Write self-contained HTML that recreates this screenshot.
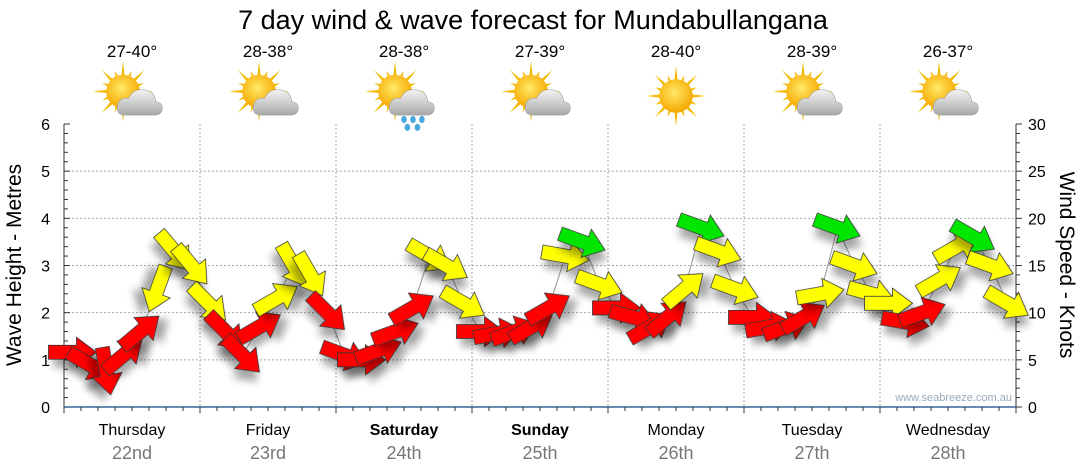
<!DOCTYPE html>
<html><head><meta charset="utf-8"><style>
html,body{margin:0;padding:0;background:#fff;width:1080px;height:475px;overflow:hidden}
svg{display:block;font-family:"Liberation Sans",sans-serif}
</style></head><body>
<svg id="c" width="1080" height="475" viewBox="0 0 1080 475">
<defs>
<filter id="sh" x="-50%" y="-50%" width="200%" height="200%"><feGaussianBlur in="SourceAlpha" stdDeviation="4"/><feOffset dx="5" dy="8"/><feComponentTransfer><feFuncA type="linear" slope="0.35"/></feComponentTransfer><feMerge><feMergeNode/><feMergeNode in="SourceGraphic"/></feMerge></filter>
<radialGradient id="sun" cx="0.45" cy="0.4" r="0.6"><stop offset="0" stop-color="#ffe866"/><stop offset="1" stop-color="#f5a800"/></radialGradient>
<linearGradient id="cl" x1="0" y1="0" x2="0" y2="1"><stop offset="0" stop-color="#f4f4f4"/><stop offset="1" stop-color="#a8a8a8"/></linearGradient>
</defs>
<text x="533" y="29" text-anchor="middle" font-size="27" fill="#000">7 day wind &amp; wave forecast for Mundabullangana</text>
<g id="grid"></g><g id="axes"></g><g id="wx"></g><g id="wind"></g>
<text x="1012" y="401" text-anchor="end" font-size="11" fill="#99aabb">www.seabreeze.com.au</text>
<text transform="translate(21,265) rotate(-90)" text-anchor="middle" font-size="21">Wave Height - Metres</text>
<text transform="translate(1060,265) rotate(90)" text-anchor="middle" font-size="21">Wind Speed - Knots</text>
</svg>
<script>
const days=["Thursday","Friday","Saturday","Sunday","Monday","Tuesday","Wednesday"];
const dates=["22nd","23rd","24th","25th","26th","27th","28th"];
const boldDays=[false,false,true,true,false,false,false];
const temps=["27-40°","28-38°","28-38°","27-39°","28-40°","28-39°","26-37°"];
const icons=["partly","partly","rain","partly","sun","partly","partly"];
const waveTicks=[0,1,2,3,4,5,6];
const knotTicks=[0,5,10,15,20,25,30];
const windSpeed=[5.8,4.5,3.8,5.5,8,12.5,16.5,15,
 11,8,5.5,8.5,11.5,15,14,10,
 5.5,5,6,8,10.5,16,15,11,
 8,7.8,8,8.5,10.5,16,17.5,13,
 10.5,9.5,8.5,9.5,12.5,19,16.5,12.5,
 9.5,8.5,8.5,9.5,12,19,15,12,
 11,9,10,13.5,17,18,15,11];
const windDir=[0,30,80,-40,-40,110,50,50,
 45,45,45,-30,-30,60,60,45,
 20,0,-20,-20,-30,30,30,30,
 0,-10,-20,-30,-30,10,20,20,
 0,15,-30,-40,-40,20,20,20,
 0,-10,-20,-30,-10,20,20,15,
 0,10,-20,-30,-30,30,20,30];
const NS="http://www.w3.org/2000/svg";
const X0=64,DW=136,Y0=407,YT=124;
const xDay=d=>X0+d*DW;
const xT=i=>X0+(i+0.5)*DW/8;
const yM=m=>Y0-(Y0-YT)*m/6;
const yK=k=>Y0-(Y0-YT)*k/30;
function el(t,a,p){const e=document.createElementNS(NS,t);for(const k in a)e.setAttribute(k,a[k]);(p||document.getElementById('c')).appendChild(e);return e;}
const grid=document.getElementById('grid'),axes=document.getElementById('axes');
waveTicks.forEach(m=>{if(m>0&&m<6){const l=el('line',{x1:X0,x2:1016,y1:yM(m),y2:yM(m),stroke:'#aaa','stroke-dasharray':'2,2'},grid);}
 const t=el('text',{x:50,y:yM(m)+6,'text-anchor':'end','font-size':16},axes);t.textContent=m;
 });
for(let i=0;i<=30;i++){const y=Y0-(Y0-YT)*i/30;el('line',{x1:64,x2:i%5?68:70,y1:y,y2:y,stroke:'#333'},axes);el('line',{x1:1016,x2:i%5?1020:1022,y1:y,y2:y,stroke:'#333'},axes);}
knotTicks.forEach(k=>{const t=el('text',{x:1028,y:yK(k)+6,'font-size':16},axes);t.textContent=k;
 });
el('line',{x1:64,x2:64,y1:YT,y2:Y0,stroke:'#333'},axes);
el('line',{x1:1016,x2:1016,y1:YT,y2:Y0,stroke:'#333'},axes);
el('line',{x1:64,x2:1016,y1:Y0,y2:Y0,stroke:'#336699','stroke-width':1.5},axes);
for(let i=0;i<=56;i++){const x=X0+i*DW/8;el('line',{x1:x,x2:x,y1:Y0,y2:Y0+(i%8?4:6),stroke:'#333'},axes);}
const wx=document.getElementById('wx');
days.forEach((d,i)=>{
 const cx=xDay(i)+DW/2;
 if(i>0){const l=el('line',{x1:xDay(i),x2:xDay(i),y1:YT,y2:Y0,stroke:'#aaa','stroke-dasharray':'2,2'},grid);}
 const t=el('text',{x:cx,y:435,'text-anchor':'middle','font-size':16,'font-weight':boldDays[i]?'bold':'normal'},axes);t.textContent=d;
 
 const t2=el('text',{x:cx,y:459,'text-anchor':'middle','font-size':18,fill:'#777'},axes);t2.textContent=dates[i];
 
 const tt=el('text',{x:cx,y:57,'text-anchor':'middle','font-size':17},wx);tt.textContent=temps[i];
 
 const g=el('g',{transform:`translate(${cx},96) scale(1.12)`},wx);
 
 const sx=icons[i]==='sun'?0:-8, sy=icons[i]==='sun'?0:-4;
 for(let r=0;r<16;r++){const a=r*Math.PI/8;const L=r%2?20:27;el('polygon',{points:`${sx+Math.cos(a-0.12)*13},${sy+Math.sin(a-0.12)*13} ${sx+Math.cos(a)*L},${sy+Math.sin(a)*L} ${sx+Math.cos(a+0.12)*13},${sy+Math.sin(a+0.12)*13}`,fill:'#f5b800'},g);}
 el('circle',{cx:sx,cy:sy,r:15,fill:'url(#sun)'},g);
 if(icons[i]!=='sun'){
  el('path',{d:'M-6,17 Q-14,17 -13,9 Q-12,1 -3,2 Q2,-8 13,-5 Q21,-3 21,5 Q28,6 27,12 Q26,17 20,17 Z',fill:'url(#cl)',stroke:'#999','stroke-width':0.5},g);
  if(icons[i]==='rain'){[[0,21],[8,21],[16,21],[3,28],[12,28]].forEach(p=>el('ellipse',{cx:p[0],cy:p[1],rx:2.5,ry:3.2,fill:'#4aa8e0'},g));}
 }
});
const wind=document.getElementById('wind');
const pts=windSpeed.map((s,i)=>[xT(i),yK(s)]);
const pl=el('polyline',{points:pts.map(p=>p.join(',')).join(' '),fill:'none',stroke:'#999','stroke-width':1},wind);

windSpeed.forEach((s,i)=>{
 const col=s<11?'#ff0000':(s<17.5?'#ffff00':'#00e600');
 const a=el('polygon',{points:'-24,-7 4,-7 4,-15 24,0 4,15 4,7 -24,7',fill:col,stroke:'#333','stroke-width':0.8,filter:'url(#sh)',transform:`translate(${xT(i)},${yK(s)}) rotate(${windDir[i]})`},wind);
 
 
});
</script>
</body></html>
